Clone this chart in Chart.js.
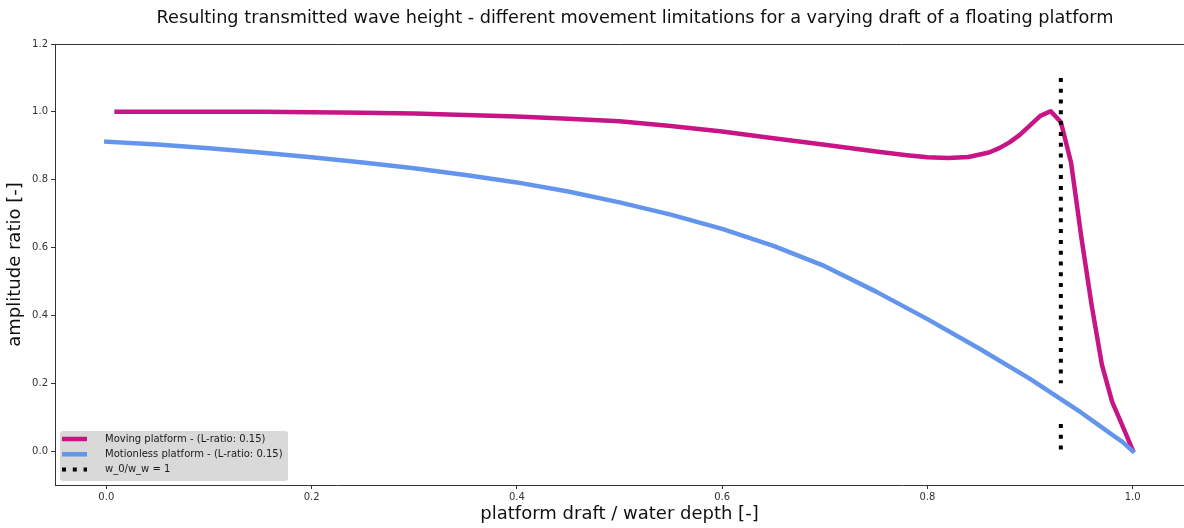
<!DOCTYPE html>
<html>
<head>
<meta charset="utf-8">
<script src="https://cdn.jsdelivr.net/npm/chart.js@4.4.1/dist/chart.umd.min.js"></script>
<style>
	html, body { margin: 0; padding: 0; overflow: hidden; background: #fff; }
	canvas { display: block; }
</style>
</head>
<body>
<canvas id="chart" width="1184" height="528"></canvas>
<script>
// moving platform, L-ratio 0.15
const movingDraft = [0.01, 0.05, 0.10, 0.15, 0.20, 0.25, 0.30, 0.35, 0.40, 0.45, 0.50, 0.55, 0.60, 0.65, 0.70, 0.75, 0.78, 0.80, 0.82, 0.84, 0.86, 0.87, 0.88, 0.89, 0.90, 0.91, 0.92, 0.93, 0.94, 0.95, 0.96, 0.97, 0.98, 0.99, 1.00];
const movingAmp = [1.000, 1.000, 1.000, 1.000, 0.999, 0.997, 0.995, 0.991, 0.986, 0.980, 0.972, 0.958, 0.942, 0.922, 0.903, 0.883, 0.872, 0.866, 0.864, 0.867, 0.880, 0.893, 0.910, 0.932, 0.960, 0.988, 1.002, 0.970, 0.850, 0.630, 0.430, 0.255, 0.145, 0.075, 0.003];

// motionless platform, L-ratio 0.15
const motionlessDraft = [0.00, 0.05, 0.10, 0.15, 0.20, 0.25, 0.30, 0.35, 0.40, 0.45, 0.50, 0.55, 0.60, 0.65, 0.70, 0.75, 0.80, 0.85, 0.90, 0.95, 0.97, 0.98, 0.99, 1.00];
const motionlessAmp = [0.912, 0.904, 0.893, 0.880, 0.866, 0.851, 0.834, 0.814, 0.792, 0.765, 0.733, 0.697, 0.655, 0.605, 0.545, 0.470, 0.389, 0.303, 0.213, 0.113, 0.070, 0.048, 0.027, 0.000];

// w_0/w_w = 1 marker (broken where null)
const limitDraft = [0.93, 0.93, 0.93, 0.93, 0.93];
const limitAmp = [1.1, 0.2, null, 0.08, 0.0];

const xTicks = [0.0, 0.2, 0.4, 0.6, 0.8, 1.0];
const yTicks = [0.0, 0.2, 0.4, 0.6, 0.8, 1.0, 1.2];

const seriesLabels = [
	'Moving platform - (L-ratio: 0.15)',
	'Motionless platform - (L-ratio: 0.15)',
	'w_0/w_w = 1',
];

const FONT = "'DejaVu Sans', sans-serif";
Chart.defaults.font.family = FONT;

const toPoints = (xs, ys) => xs.map((x, i) => ({ x: x, y: ys[i] }));

const data = {
	datasets: [
		{
			label: seriesLabels[0],
			data: toPoints(movingDraft, movingAmp),
			borderColor: '#C71585',
			borderWidth: 4.5,
			borderCapStyle: 'square',
			borderJoinStyle: 'round',
			pointRadius: 0,
			order: 3,
		},
		{
			label: seriesLabels[1],
			data: toPoints(motionlessDraft, motionlessAmp),
			borderColor: '#6495ED',
			borderWidth: 4.5,
			borderCapStyle: 'square',
			borderJoinStyle: 'round',
			pointRadius: 0,
			order: 2,
		},
		{
			label: seriesLabels[2],
			data: toPoints(limitDraft, limitAmp),
			borderColor: '#000',
			borderWidth: 4,
			borderDash: [4, 6.8],
			borderCapStyle: 'butt',
			pointRadius: 0,
			spanGaps: false,
			order: 1,
		},
	],
};

// title centred over the plot frame, plus the top spine
const frame = {
	id: 'frame',
	afterDraw(chart) {
		const { ctx, chartArea: a } = chart;
		ctx.save();
		// keep the right strip of the frame open
		ctx.fillStyle = '#fff';
		ctx.fillRect(a.right - 12, a.top, 20, a.bottom - a.top - 1);

		ctx.strokeStyle = '#333';
		ctx.lineWidth = 1;
		ctx.beginPath();
		ctx.moveTo(a.left, a.top + 0.5);
		ctx.lineTo(chart.width, a.top + 0.5);
		ctx.stroke();

		ctx.fillStyle = '#111';
		ctx.font = '17.7px ' + FONT;
		ctx.textAlign = 'center';
		ctx.textBaseline = 'middle';
		ctx.fillText('Resulting transmitted wave height - different movement limitations for a varying draft of a floating platform', 635, 18);
		ctx.restore();
	},
};

// legend box in the lower left corner of the plot
const boxLegend = {
	id: 'boxLegend',
	afterDatasetsDraw(chart) {
		const { ctx, chartArea: a } = chart;
		const x0 = a.left + 5;
		const y0 = a.bottom - 54;
		const w = 228;
		const h = 50;
		ctx.save();
		ctx.fillStyle = '#d9d9d9';
		ctx.beginPath();
		ctx.roundRect(x0, y0, w, h, 3);
		ctx.fill();

		ctx.font = '10px ' + FONT;
		ctx.textBaseline = 'middle';
		ctx.textAlign = 'left';
		chart.data.datasets.forEach((ds, i) => {
			const y = y0 + 8 + i * 15.3;
			ctx.strokeStyle = ds.borderColor;
			ctx.lineWidth = ds.borderWidth;
			ctx.lineCap = 'butt';
			ctx.setLineDash(ds.borderDash || []);
			ctx.beginPath();
			ctx.moveTo(x0 + 2, y);
			ctx.lineTo(x0 + 27, y);
			ctx.stroke();
			ctx.setLineDash([]);
			ctx.fillStyle = '#1a1a1a';
			ctx.fillText(ds.label, x0 + 45, y);
		});
		ctx.restore();
	},
};

const tickFont = { size: 10, family: FONT };

const config = {
	type: 'line',
	data,
	options: {
		responsive: false,
		animation: false,
		events: [],
		layout: {
			// plot frame runs past the right edge of the canvas
			padding: { top: 44, right: -2, left: 0, bottom: 0 },
		},
		scales: {
			x: {
				type: 'linear',
				min: -0.05,
				max: 1.05,
				afterBuildTicks: scale => {
					scale.ticks = xTicks.map(v => ({ value: v }));
				},
				afterFit: scale => {
					scale.height = 43;
				},
				ticks: {
					font: tickFont,
					color: '#333',
					padding: 2,
					maxRotation: 0,
					callback: v => v.toFixed(1),
				},
				grid: {
					drawOnChartArea: false,
					drawTicks: true,
					tickLength: 4,
					color: '#333',
				},
				border: { color: '#333' },
				title: {
					display: true,
					text: 'platform draft / water depth [-]',
					font: { size: 18, family: FONT },
					color: '#111',
					padding: { top: 0, bottom: 3 },
				},
			},
			y: {
				min: -0.1,
				max: 1.2,
				afterBuildTicks: scale => {
					scale.ticks = yTicks.map(v => ({ value: v }));
				},
				afterFit: scale => {
					scale.width = 55;
				},
				ticks: {
					font: tickFont,
					color: '#333',
					padding: 3,
					callback: v => v.toFixed(1),
				},
				grid: {
					drawOnChartArea: false,
					drawTicks: true,
					tickLength: 4,
					color: '#333',
				},
				border: { color: '#333' },
				title: {
					display: true,
					text: 'amplitude ratio [-]',
					font: { size: 18, family: FONT },
					color: '#111',
					padding: { top: 5, bottom: 0 },
				},
			},
		},
		plugins: {
			legend: { display: false },
			tooltip: { enabled: false },
			title: { display: false },
		},
	},
	plugins: [frame, boxLegend],
};

const myChart = new Chart(document.getElementById('chart'), config);
</script>
</body>
</html>
